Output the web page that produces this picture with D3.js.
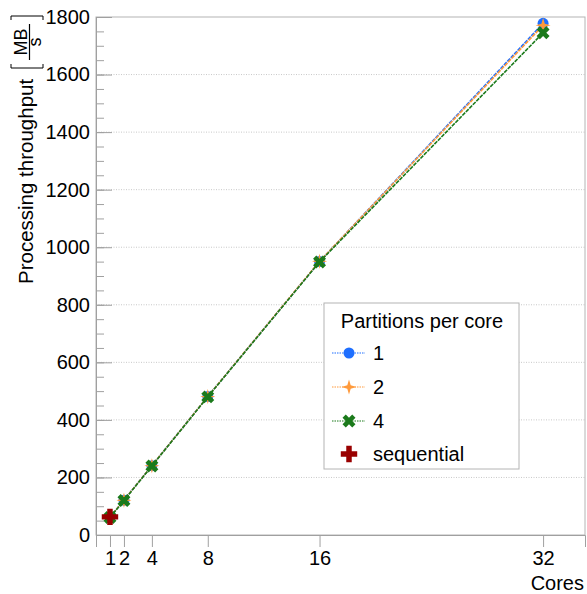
<!DOCTYPE html>
<html><head><meta charset="utf-8">
<script src="https://cdn.jsdelivr.net/npm/d3@7"></script>
<style>body{margin:0;background:#fff}svg{display:block;font-family:"Liberation Sans",Arial,sans-serif}</style>
</head><body>
<svg id="c" width="587" height="594"></svg>
<script>
const cores = [1, 2, 4, 8, 16, 32];
const seriesNames = ["1", "2", "4"];
const throughput1 = [62, 121, 241, 481, 950, 1778];
const throughput2 = [62, 121, 241, 481, 951, 1771];
const throughput4 = [61, 120, 240, 480, 949, 1745];
const sequentialCores = [1];
const sequentialThroughput = [63];
const xTicks = [1, 2, 4, 8, 16, 32];
const yTicks = [0, 200, 400, 600, 800, 1000, 1200, 1400, 1600, 1800];

const svg = d3.select("#c");
const L = 96, R = 585, T = 17, B = 535;
const x = d3.scaleLinear().domain([0, 35]).range([L, R]);
const y = d3.scaleLinear().domain([0, 1800]).range([B, T]);
const axisCol = "#a0a0a0";

// grid
svg.append("g").selectAll("line").data(yTicks.filter(d => d > 0 && d < 1800)).join("line")
  .attr("x1", L).attr("x2", R).attr("y1", d => y(d)).attr("y2", d => y(d))
  .attr("stroke", "#c8c8c8").attr("stroke-width", 1).attr("stroke-dasharray", "1,1.5");

// frame
svg.append("rect").attr("x", L).attr("y", T).attr("width", R - L).attr("height", B - T)
  .attr("fill", "none").attr("stroke", "#b4b4b4").attr("stroke-width", 1);

// y axis ticks (inside) via axis
const yMinor = d3.range(0, 1801, 50);
const ya = svg.append("g").attr("transform", `translate(${L},0)`)
  .call(d3.axisRight(y).tickValues(yMinor).tickSize(8).tickFormat(""));
ya.select(".domain").remove();
ya.selectAll("line").attr("stroke", axisCol);
const yb = svg.append("g").attr("transform", `translate(${L},0)`)
  .call(d3.axisLeft(y).tickValues(yTicks).tickSize(0).tickPadding(6).tickFormat(d3.format("d")));
yb.select(".domain").attr("stroke", axisCol);
yb.selectAll("text").attr("font-size", 20).attr("fill", "#000").attr("font-family", "Liberation Sans, Arial, sans-serif");
svg.append("g").attr("transform", `translate(${L},0)`)
  .call(d3.axisRight(y).tickValues(yTicks).tickSize(16).tickFormat(""))
  .call(g => { g.select(".domain").remove(); g.selectAll("line").attr("stroke", axisCol); });

// x axis
const xa = svg.append("g").attr("transform", `translate(0,${B})`)
  .call(d3.axisBottom(x).tickValues(xTicks).tickSize(12).tickPadding(4).tickFormat(d3.format("d")));
xa.select(".domain").attr("stroke", axisCol);
xa.selectAll("line").attr("stroke", axisCol);
xa.selectAll("text").attr("font-size", 20).attr("fill", "#000").attr("font-family", "Liberation Sans, Arial, sans-serif");

svg.append("text").attr("x", 584).attr("y", 590).attr("text-anchor", "end")
  .attr("font-size", 20).text("Cores");

// y label
const yl = svg.append("g").attr("transform", "translate(33,284) rotate(-90)");
yl.append("text").attr("x", 0).attr("y", 0).attr("font-size", 20.5).text("Processing throughput");
// fraction [MB/s]
const fx = 216;
yl.append("path").attr("d", `M${fx+4},-22 H${fx} V10 H${fx+4}`).attr("fill", "none").attr("stroke", "#000").attr("stroke-width", 1);
yl.append("text").attr("x", fx + 26).attr("y", -6).attr("text-anchor", "middle").attr("font-size", 18).text("MB");
yl.append("line").attr("x1", fx + 8).attr("x2", fx + 44).attr("y1", -3.5).attr("y2", -3.5).attr("stroke", "#000").attr("stroke-width", 1.2);
yl.append("text").attr("x", fx + 26).attr("y", 8).attr("text-anchor", "middle").attr("font-size", 18).text("s");
yl.append("path").attr("d", `M${fx+48},-22 H${fx+52} V10 H${fx+48}`).attr("fill", "none").attr("stroke", "#000").attr("stroke-width", 1);

// markers
const star4 = (r, k) => `M0,${-r}L${k},${-k}L${r},0L${k},${k}L0,${r}L${-k},${k}L${-r},0L${-k},${-k}Z`;
const symCircle = d3.symbol().type(d3.symbolCircle).size(95)();
const symStar = star4(7.5, 1.7);
const symX = d3.symbol().type(d3.symbolCross).size(105)();
const symPlus = d3.symbol().type(d3.symbolCross).size(150)();

const series = [
  { name: seriesNames[0], vals: throughput1, color: "#1f6fff", sym: symCircle, rot: 0 },
  { name: seriesNames[1], vals: throughput2, color: "#ff9a3c", sym: symStar, rot: 0 },
  { name: seriesNames[2], vals: throughput4, color: "#1b7a1b", sym: symX, rot: 45 },
];
const line = d3.line().x((d, i) => x(cores[i])).y(d => y(d));
series.forEach(s => {
  svg.append("path").datum(s.vals).attr("d", line).attr("fill", "none")
    .attr("stroke", s.color).attr("stroke-width", 1.6).attr("stroke-dasharray", "4,1");
});
series.forEach(s => {
  svg.append("g").selectAll("path").data(s.vals).join("path")
    .attr("d", s.sym).attr("fill", s.color)
    .attr("transform", (d, i) => `translate(${x(cores[i])},${y(d)}) rotate(${s.rot})`);
});
svg.append("g").selectAll("path").data(sequentialThroughput).join("path")
  .attr("d", symPlus).attr("fill", "#990000")
  .attr("transform", (d, i) => `translate(${x(sequentialCores[i])},${y(d)})`);

// legend
const lg = svg.append("g");
lg.append("rect").attr("x", 324).attr("y", 303).attr("width", 195).attr("height", 166)
  .attr("fill", "#fff").attr("stroke", "#b4b4b4");
lg.append("text").attr("x", 422).attr("y", 328).attr("text-anchor", "middle").attr("font-size", 20).text("Partitions per core");
const ly = [353, 387, 421];
series.forEach((s, i) => {
  lg.append("line").attr("x1", 332).attr("x2", 365).attr("y1", ly[i]).attr("y2", ly[i])
    .attr("stroke", s.color).attr("stroke-width", 1.2).attr("stroke-dasharray", "1.5,1");
  lg.append("path").attr("d", s.sym).attr("fill", s.color).attr("transform", `translate(349,${ly[i]}) rotate(${s.rot})`);
  lg.append("text").attr("x", 373).attr("y", ly[i] + 7).attr("font-size", 20).text(s.name);
});
lg.append("path").attr("d", symPlus).attr("fill", "#990000").attr("transform", "translate(349,454)");
lg.append("text").attr("x", 373).attr("y", 461).attr("font-size", 20).text("sequential");
</script>
</body></html>
